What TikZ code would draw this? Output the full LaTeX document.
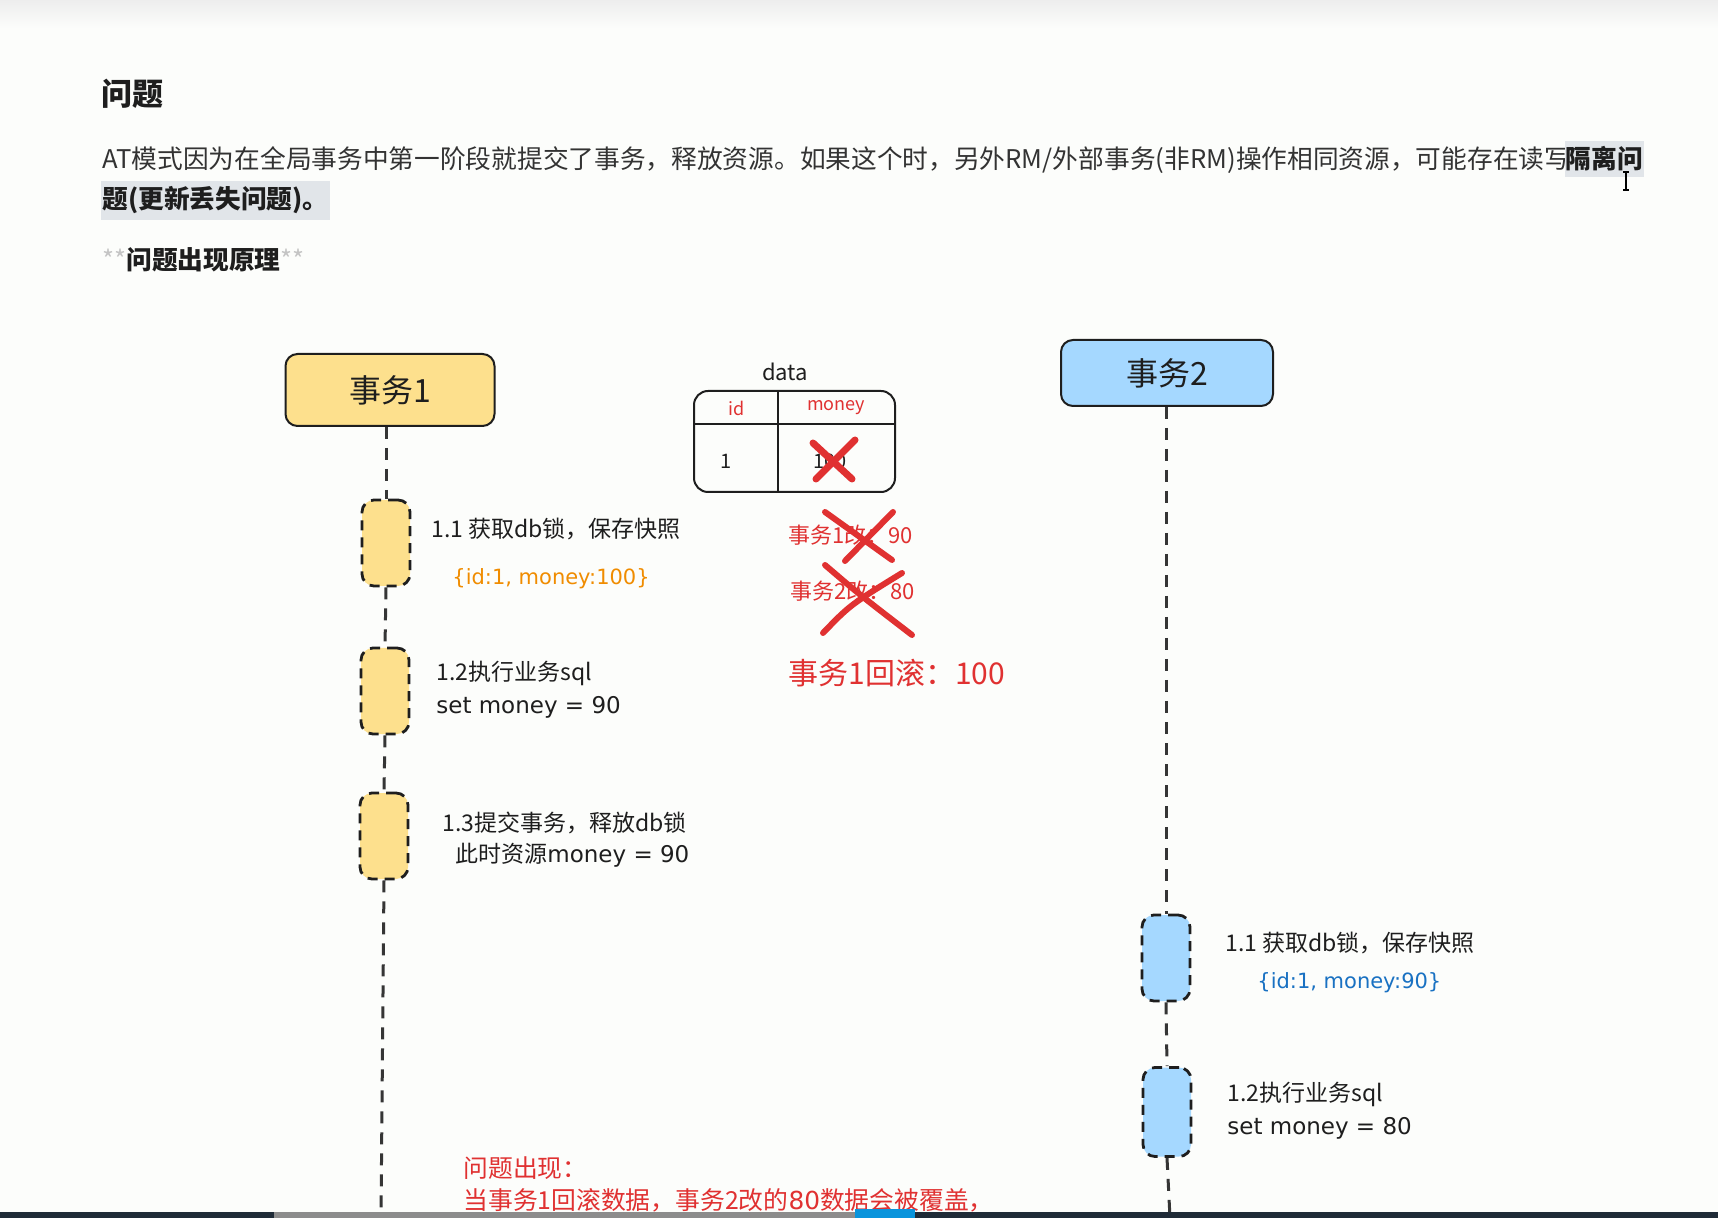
\documentclass[tikz,border=0pt]{standalone}
\usepackage{fontspec}
\setmainfont{Noto Sans CJK SC}
\newfontfamily\latf{DejaVu Sans}
\usetikzlibrary{calc}
\definecolor{bgc}{HTML}{FCFDFB}
\definecolor{ink}{HTML}{1E1E1E}
\definecolor{txt}{HTML}{333333}
\definecolor{yel}{HTML}{FDE08D}
\definecolor{blu}{HTML}{A5D8FF}
\definecolor{redx}{HTML}{E03131}
\definecolor{org}{HTML}{F08C00}
\definecolor{btxt}{HTML}{1971C2}
\definecolor{hl}{HTML}{E1E5E9}
\definecolor{star}{HTML}{C4C4C4}
\definecolor{bar}{HTML}{1F2B37}
\tikzset{
  actor/.style={draw=ink, line width=1pt, rounded corners=6pt, text=ink,
    font=\fontsize{16}{18}\selectfont, inner sep=0},
  act/.style={draw=ink, line width=1.4pt, dash pattern=on 5pt off 3.5pt,
    rounded corners=6pt, minimum width=24pt, minimum height=43pt, inner sep=0},
  life/.style={draw=ink!90, line width=1.5pt, dash pattern=on 6pt off 4.5pt},
  lbl/.style={anchor=west, inner sep=0, text=ink, font=\fontsize{11.5}{16.5}\selectfont},
  ptext/.style={inner sep=0, text=txt, font=\fontsize{12.85}{16}\selectfont},
  hlbox/.style={fill=hl, inner xsep=0.5pt, inner ysep=3pt, text=ink, font=\fontsize{12.85}{16}\selectfont\bfseries},
  rtext/.style={anchor=west, inner sep=0, text=redx, font=\fontsize{11}{14}\selectfont},
  xmark/.style={draw=redx, line width=3pt, line cap=round},
}
\begin{document}
\begin{tikzpicture}[x=0.5pt,y=-0.5pt]
\fill[bgc] (0,0) rectangle (1718,1218);
\useasboundingbox (0,0) rectangle (1718,1218);
\shade[top color=black!7, bottom color=bgc] (0,0) rectangle (1718,28);

% header text
\node[anchor=west, inner sep=0, text=ink, font=\fontsize{15.5}{18}\selectfont\bfseries] (title) at (101,94) {问题};
\node[ptext, anchor=base west] (p1) at (102,169) {AT模式因为在全局事务中第一阶段就提交了事务，释放资源。如果这个时，另外RM/外部事务(非RM)操作相同资源，可能存在读写};
\node[hlbox, anchor=base west] (p1b) at ([xshift=-3pt]p1.base east) {隔离问};
\node[hlbox, anchor=base west] (p2) at (101,209) {题(更新丢失问题)。};
\node[ptext, anchor=west] (p3) at (102,260) {\textcolor{star}{**}\textcolor{ink}{\bfseries 问题出现原理}\textcolor{star}{**}};
\draw[line width=0.6pt] (1626,172) -- (1626,190) (1623,172) -- (1629,172) (1623,190) -- (1629,190);

% actors
\node[actor, fill=yel, minimum width=104.5pt, minimum height=36pt] (t1) at (390,390) {事务1};
\node[actor, fill=blu, minimum width=106pt, minimum height=33pt] (t2) at (1167,373) {事务2};

% activations
\node[act, fill=yel] (a1) at (386,543) {};
\node[act, fill=yel] (a2) at (385,691) {};
\node[act, fill=yel] (a3) at (384,836) {};
\node[act, fill=blu] (b1) at (1166,958) {};
\node[act, fill=blu, minimum height=44.5pt] (b2) at (1167,1112) {};
\coordinate (e1) at (381,1218);
\coordinate (e2) at (1170,1218);

% lifelines
\draw[life] (a1.north |- t1.south) -- (a1.north);
\draw[life] (a1.south) -- (a2.north);
\draw[life] (a2.south) -- (a3.north);
\draw[life] (a3.south) -- (e1);
\draw[life] (b1.north |- t2.south) -- (b1.north);
\draw[life] (b1.south) -- (b2.north);
\draw[life] (b2.south) -- (e2);

% step labels tx1
\node[lbl] (s11) at (431,529) {1.1 获取db锁，保存快照};
\node[lbl, text=org, font=\fontsize{10.5}{14}\latf] (s11v) at (452,579) {\{id:1, money:100\}};
\node[lbl, align=left] (s12) at (436,690) {1.2执行业务sql\\{\latf set money = 90}};
\node[lbl] (s13a) at (442,823) {1.3提交事务，释放db锁};
\node[lbl] (s13b) at (455,855) {此时资源{\latf money = 90}};

% step labels tx2
\node[lbl] (u11) at (1225,943) {1.1 获取db锁，保存快照};
\node[lbl, text=btxt, font=\fontsize{10.5}{14}\latf] (u11v) at (1257,983) {\{id:1, money:90\}};
\node[lbl, align=left] (u12) at (1227,1111) {1.2执行业务sql\\{\latf set money = 80}};

% data table
\node[inner sep=0, text=ink, font=\fontsize{11}{13}\selectfont] (dlabel) at (785,372) {data};
\node[draw=ink, line width=1pt, rounded corners=7pt, minimum width=100.5pt, minimum height=50.5pt, inner sep=0] (tbl) at (794.5,441.5) {};
\draw[ink, line width=1pt] (778,391) -- (778,492);
\draw[ink, line width=1pt] (694,424) -- (895,424);
\node[inner sep=0, text=redx, font=\fontsize{9}{11}\selectfont] (hid) at (737,408) {id};
\node[inner sep=0, text=redx, font=\fontsize{9}{11}\selectfont] (hmoney) at (836,408) {money};
\node[inner sep=0, text=ink, font=\fontsize{10}{12}\selectfont] (cid) at (726,461) {1};
\node[inner sep=0, text=ink, font=\fontsize{10}{12}\selectfont] (cmoney) at (830,461) {100};
\draw[xmark, line width=3.5pt] (813,443) -- (852,479);
\draw[xmark, line width=3.5pt] (855,440) -- (816,479);

% red notes
\node[rtext] (r1) at (788,535) {事务1改：90};
\node[rtext] (r2) at (790,591) {事务2改：80};
\node[rtext, font=\fontsize{15}{18}\selectfont] (r3) at (788,673) {事务1回滚：100};
\draw[xmark] (825,512) -- (892,560);
\draw[xmark] (893,512) -- (845,561);
\draw[xmark] (825,565) .. controls (860,595) .. (912,635);
\draw[xmark] (902,573) .. controls (850,605) .. (823,633);

\node[rtext, font=\fontsize{12.4}{14}\selectfont] (q1) at (463,1168) {问题出现：};
\node[rtext, font=\fontsize{12.4}{14}\selectfont] (q2) at (463,1200) {当事务1回滚数据，事务2改的{\latf 80}数据会被覆盖，};

% bottom bar
\fill[bar] (0,1212) rectangle (1718,1218);
\fill[black!45] (274,1212) rectangle (855,1218);
\fill[cyan!80!blue] (855,1209) rectangle (915,1218);
\end{tikzpicture}
\end{document}
